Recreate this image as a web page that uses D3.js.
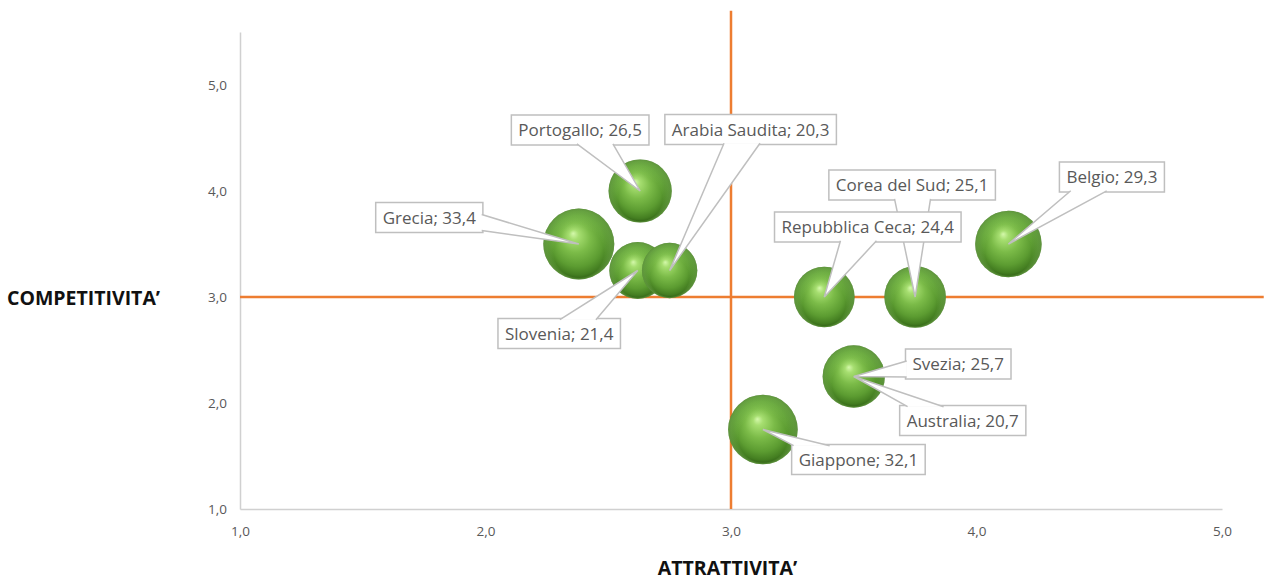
<!DOCTYPE html>
<html>
<head>
<meta charset="utf-8">
<script src="https://cdn.jsdelivr.net/npm/d3@7"></script>
<style>
  body { margin: 0; background: #fff; }
  svg { display: block; font-family: "Open Sans", sans-serif; }
</style>
</head>
<body>
<div id="container"></div>
<script>
/* CONSTANTS AND GLOBALS */
const width = 1269,
  height = 584,
  margin = {top: 32, bottom: 75, left: 240, right: 47};

/* DATA */
const countries = ["Grecia", "Portogallo", "Slovenia", "Arabia Saudita", "Belgio",
  "Corea del Sud", "Repubblica Ceca", "Australia", "Svezia", "Giappone"];
const attrattivita = [2.38, 2.63, 2.62, 2.75, 4.13, 3.75, 3.38, 3.5, 3.5, 3.13];
const competitivita = [3.5, 4.0, 3.25, 3.25, 3.5, 3.0, 3.0, 2.25, 2.25, 1.75];
const sizes = [33.4, 26.5, 21.4, 20.3, 29.3, 25.1, 24.4, 20.7, 25.7, 32.1];
const tickValues = [1, 2, 3, 4, 5];
const refX = 3, refY = 3;

// where each callout box sits, relative to its bubble (pixels)
const labelOffsets = [[-149.5, -26.5], [-60, -61], [-78.5, 63], [81, -141], [103.5, -67],
  [-3, -112], [43.5, -70], [109, 44], [104.5, -12.5], [95.5, 30]];

const data = countries.map((c, i) => ({
  name: c, x: attrattivita[i], y: competitivita[i], size: sizes[i], off: labelOffsets[i]
}));

const it = d3.formatLocale({decimal: ",", thousands: ".", grouping: [3], currency: ["", "€"]});
const fmt = it.format(".1f");

/* SCALES */
const xScale = d3.scaleLinear().domain([1, 5]).range([240, 1222]);
const yScale = d3.scaleLinear().domain([1, 5.5]).range([509, 32]);
const rScale = d3.scaleSqrt().domain([0, 33.4]).range([0, 35.5]);

const svg = d3.select("#container").append("svg")
  .attr("width", width)
  .attr("height", height);

// sphere look
const defs = svg.append("defs");
const grad = defs.append("radialGradient")
  .attr("id", "ball")
  .attr("cx", "50%").attr("cy", "50%").attr("r", "50%")
  .attr("fx", "42%").attr("fy", "35%");
[[0, "#d4f8ab"], [0.14, "#a6de70"], [0.42, "#7bbb48"], [0.72, "#5c9c31"], [0.9, "#447e21"], [1, "#2f5f14"]]
  .forEach(s => grad.append("stop").attr("offset", s[0]).attr("stop-color", s[1]));
const rim = defs.append("radialGradient")
  .attr("id", "rim")
  .attr("cx", "50%").attr("cy", "50%").attr("r", "50%")
  .attr("fx", "50%").attr("fy", "90%");
[[0, "#a8e67c", 0.0], [0.7, "#a8e67c", 0.0], [1, "#a8e67c", 0.4]]
  .forEach(s => rim.append("stop").attr("offset", s[0]).attr("stop-color", s[1]).attr("stop-opacity", s[2]));

/* AXES */
const xAxis = d3.axisBottom(xScale).tickValues(tickValues).tickSize(0).tickPadding(17).tickFormat(fmt);
const yAxis = d3.axisLeft(yScale).tickValues(tickValues).tickSize(0).tickPadding(13).tickFormat(fmt);

const xAxisGroup = svg.append("g")
  .attr("transform", `translate(0,${yScale(1)})`)
  .call(xAxis);
const yAxisGroup = svg.append("g")
  .attr("transform", `translate(${xScale(1)},0)`)
  .call(yAxis);

[xAxisGroup, yAxisGroup].forEach(g => {
  g.select(".domain").attr("stroke", "#d0d0d0").attr("stroke-width", 1.5);
  g.selectAll("text").attr("font-size", 13.5).attr("fill", "#595959")
    .attr("font-family", "'Open Sans', sans-serif");
});

// axis titles
svg.append("text")
  .attr("x", 7).attr("y", 305)
  .attr("font-size", 19.5).attr("font-weight", 700).attr("fill", "#111")
  .text("COMPETITIVITA’");
svg.append("text")
  .attr("x", 727.5).attr("y", 575)
  .attr("text-anchor", "middle")
  .attr("font-size", 19.5).attr("font-weight", 700).attr("fill", "#111")
  .text("ATTRATTIVITA’");

// reference lines
svg.append("line")
  .attr("x1", xScale(1)).attr("x2", xScale(5.17))
  .attr("y1", yScale(refY)).attr("y2", yScale(refY))
  .attr("stroke", "#ED7D31").attr("stroke-width", 2.5);
svg.append("line")
  .attr("x1", xScale(refX)).attr("x2", xScale(refX))
  .attr("y1", yScale(1)).attr("y2", yScale(5.7))
  .attr("stroke", "#ED7D31").attr("stroke-width", 2.5);

/* BUBBLES */
const bubbles = svg.selectAll(".bubble")
  .data(data)
  .join("g")
  .attr("class", "bubble")
  .attr("transform", d => `translate(${xScale(d.x)},${yScale(d.y)})`);
bubbles.append("circle").attr("r", d => rScale(d.size)).attr("fill", "url(#ball)");
bubbles.append("circle").attr("r", d => rScale(d.size)).attr("fill", "url(#rim)");

/* CALLOUT LABELS */
function wedge(cx, cy, w, h, tx, ty) {
  const dx = tx - cx, dy = ty - cy, hw = w / 2, hh = h / 2;
  const sx = dx !== 0 ? hw / Math.abs(dx) : Infinity;
  const sy = dy !== 0 ? hh / Math.abs(dy) : Infinity;
  const clamp = (v, a, b) => Math.max(a, Math.min(b, v));
  if (sy <= sx) {
    const ey = cy + Math.sign(dy) * (hh - 1.2);
    const half = Math.min(18, hw - 6);
    const bx = clamp(cx + dx * sy, cx - hw + half + 2, cx + hw - half - 2);
    return [[bx - half, ey], [tx, ty], [bx + half, ey]];
  } else {
    const ex = cx + Math.sign(dx) * (hw - 1.2);
    const half = 8;
    const by = clamp(cy + dy * sx, cy - hh + half + 2, cy + hh - half - 2);
    return [[ex, by - half], [tx, ty], [ex, by + half]];
  }
}

const labels = svg.selectAll(".label")
  .data(data)
  .join("g")
  .attr("class", "label");

labels.each(function (d) {
  const g = d3.select(this);
  const px = xScale(d.x), py = yScale(d.y);
  const cx = px + d.off[0], cy = py + d.off[1];
  const box = g.append("rect");
  const wg = g.append("path");
  const txt = g.append("text")
    .attr("x", cx).attr("y", cy).attr("dy", "0.36em")
    .attr("text-anchor", "middle")
    .attr("font-size", 17).attr("fill", "#595959")
    .text(`${d.name}; ${fmt(d.size)}`);
  const tw = txt.node().getComputedTextLength();
  const w = tw + 14, h = 30;
  box.attr("x", cx - w / 2).attr("y", cy - h / 2)
    .attr("width", w).attr("height", h)
    .attr("fill", "#fff").attr("stroke", "#bfbfbf").attr("stroke-width", 1.5);
  const pts = wedge(cx, cy, w, h, px, py);
  wg.attr("d", d3.line()(pts))
    .attr("fill", "#fff").attr("stroke", "#bfbfbf").attr("stroke-width", 1.5)
    .attr("stroke-linejoin", "miter");
});
</script>
</body>
</html>
